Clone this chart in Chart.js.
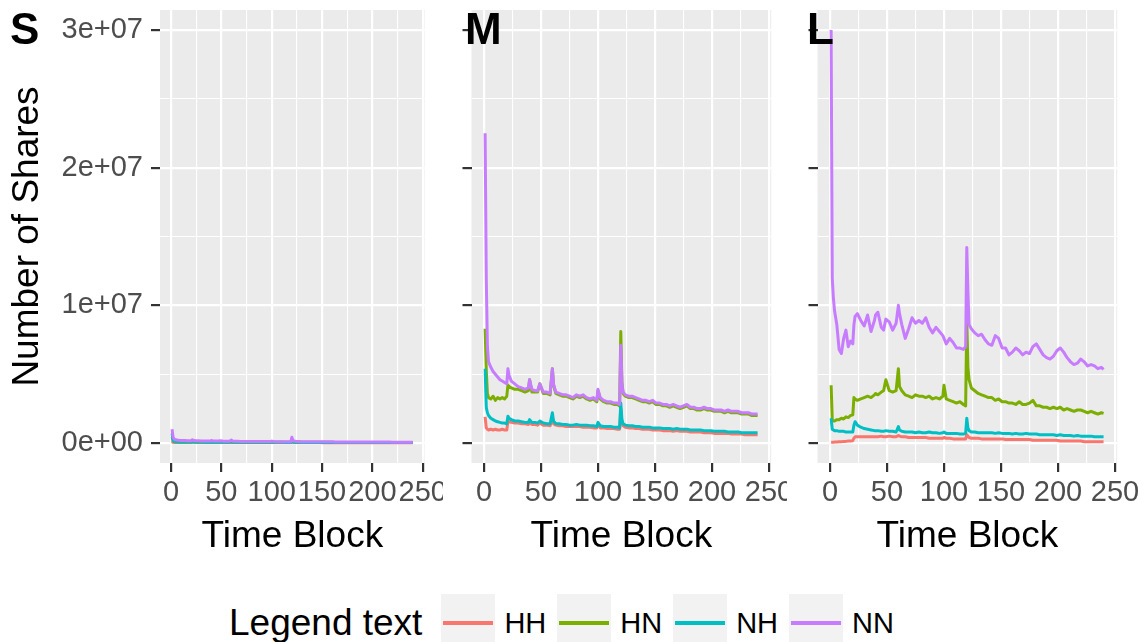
<!DOCTYPE html>
<html>
<head>
<meta charset="utf-8">
<title>Number of Shares by Time Block</title>
<script src="https://cdn.jsdelivr.net/npm/chart.js@4.4.1/dist/chart.umd.min.js"></script>
<style>
  body { margin: 0; background: #fff; font-family: 'Liberation Sans', Arial, sans-serif; }
  #wrap { position: relative; width: 1144px; height: 642px; overflow: hidden; background: #fff; }
  #wrap canvas { position: absolute; top: 0; }
  .tag { position: absolute; top: 7px; font-weight: bold; font-size: 44px; line-height: 44px; color: #000; }
  #legend { position: absolute; left: 229px; top: 594px; height: 58px; display: flex; align-items: center; color: #000; }
  #legend .title { font-size: 37px; margin-right: 19px; }
  #legend .key { width: 54px; height: 58px; background: #F2F2F2; position: relative; }
  #legend .key span { position: absolute; left: 2px; right: 2px; top: 27px; height: 4px; }
  #legend .lab { font-size: 29px; margin-left: 9px; margin-right: 11px; }
</style>
</head>
<body>
<div id="wrap">
  <canvas id="panelS" width="443" height="570" style="left:0px"></canvas>
  <canvas id="panelM" width="344" height="570" style="left:443px"></canvas>
  <canvas id="panelL" width="357" height="570" style="left:787px"></canvas>
  <div class="tag" style="left:10px">S</div>
  <div class="tag" style="left:465px">M</div>
  <div class="tag" style="left:807px">L</div>
  <div id="legend"><div class="title">Legend text</div></div>
</div>
<script>
// time blocks sampled along the x axis
const blocks = [1, 2, 3, 4,
  6, 8, 10, 12, 14, 16, 18, 20,
  21, 22, 24, 27, 30, 33, 36, 39,
  40, 42, 45, 47, 49, 52, 55, 58,
  60, 61, 63, 66, 69, 72, 75, 78,
  81, 84, 87, 90, 93, 96, 99, 100,
  102, 105, 108, 111, 114, 117, 119, 120,
  121, 122, 124, 127, 130, 133, 136, 139,
  142, 145, 148, 151, 154, 157, 160, 163,
  166, 169, 172, 175, 178, 181, 184, 187,
  190, 193, 196, 199, 202, 205, 208, 211,
  214, 217, 220, 223, 226, 229, 232, 235,
  238, 240];

const seriesNames = ['HH', 'HN', 'NH', 'NN'];
const seriesColors = ['#F8766D', '#7CAE00', '#00BFC4', '#C77CFF'];

// values in millions of shares, one per time block
// panel S
const sHH = [0.15, 0.05, 0.04, 0.04,
  0.04, 0.04, 0.04, 0.04, 0.04, 0.04, 0.04, 0.04,
  0.06, 0.05, 0.04, 0.04, 0.04, 0.04, 0.04, 0.04,
  0.05, 0.04, 0.04, 0.04, 0.04, 0.04, 0.03, 0.03,
  0.06, 0.04, 0.03, 0.03, 0.03, 0.03, 0.03, 0.03,
  0.03, 0.03, 0.03, 0.03, 0.03, 0.03, 0.03, 0.04,
  0.03, 0.03, 0.03, 0.03, 0.03, 0.03, 0.03, 0.08,
  0.05, 0.03, 0.03, 0.03, 0.03, 0.03, 0.03, 0.03,
  0.03, 0.03, 0.03, 0.02, 0.02, 0.02, 0.02, 0.02,
  0.02, 0.02, 0.02, 0.02, 0.02, 0.02, 0.02, 0.02,
  0.02, 0.02, 0.02, 0.02, 0.02, 0.02, 0.02, 0.02,
  0.02, 0.02, 0.02, 0.02, 0.02, 0.02, 0.02, 0.02,
  0.02, 0.02];
const sHN = [0.45, 0.2, 0.12, 0.1,
  0.09, 0.09, 0.08, 0.08, 0.08, 0.08, 0.08, 0.08,
  0.12, 0.1, 0.09, 0.08, 0.08, 0.08, 0.08, 0.07,
  0.1, 0.07, 0.07, 0.07, 0.08, 0.07, 0.07, 0.07,
  0.12, 0.08, 0.07, 0.07, 0.06, 0.06, 0.06, 0.06,
  0.06, 0.06, 0.06, 0.06, 0.06, 0.06, 0.06, 0.07,
  0.06, 0.06, 0.05, 0.05, 0.05, 0.05, 0.05, 0.2,
  0.12, 0.07, 0.06, 0.06, 0.05, 0.05, 0.05, 0.05,
  0.05, 0.05, 0.05, 0.05, 0.05, 0.05, 0.05, 0.04,
  0.04, 0.04, 0.04, 0.04, 0.04, 0.04, 0.04, 0.04,
  0.04, 0.04, 0.04, 0.04, 0.04, 0.04, 0.04, 0.04,
  0.04, 0.04, 0.04, 0.04, 0.04, 0.04, 0.04, 0.04,
  0.04, 0.04];
const sNH = [0.7, 0.2, 0.12, 0.1,
  0.09, 0.08, 0.08, 0.07, 0.07, 0.07, 0.07, 0.07,
  0.1, 0.08, 0.07, 0.07, 0.07, 0.06, 0.06, 0.06,
  0.08, 0.06, 0.06, 0.06, 0.07, 0.06, 0.06, 0.06,
  0.1, 0.07, 0.06, 0.06, 0.05, 0.05, 0.05, 0.05,
  0.05, 0.05, 0.05, 0.05, 0.05, 0.05, 0.05, 0.06,
  0.05, 0.05, 0.05, 0.05, 0.04, 0.04, 0.04, 0.18,
  0.1, 0.06, 0.05, 0.05, 0.04, 0.04, 0.04, 0.04,
  0.04, 0.04, 0.04, 0.04, 0.04, 0.04, 0.04, 0.04,
  0.04, 0.04, 0.03, 0.03, 0.03, 0.03, 0.03, 0.03,
  0.03, 0.03, 0.03, 0.03, 0.03, 0.03, 0.03, 0.03,
  0.03, 0.03, 0.03, 0.03, 0.03, 0.03, 0.03, 0.03,
  0.03, 0.03];
const sNN = [1.0, 0.45, 0.3, 0.25,
  0.22, 0.2, 0.19, 0.18, 0.18, 0.17, 0.17, 0.16,
  0.24, 0.2, 0.17, 0.16, 0.15, 0.15, 0.15, 0.14,
  0.18, 0.14, 0.14, 0.14, 0.16, 0.13, 0.13, 0.13,
  0.22, 0.15, 0.13, 0.13, 0.12, 0.12, 0.12, 0.12,
  0.12, 0.12, 0.11, 0.11, 0.11, 0.11, 0.11, 0.14,
  0.11, 0.1, 0.1, 0.1, 0.1, 0.1, 0.1, 0.42,
  0.22, 0.14, 0.12, 0.11, 0.1, 0.1, 0.1, 0.1,
  0.1, 0.09, 0.09, 0.09, 0.09, 0.09, 0.09, 0.08,
  0.08, 0.08, 0.08, 0.08, 0.08, 0.08, 0.08, 0.08,
  0.07, 0.07, 0.07, 0.07, 0.07, 0.07, 0.07, 0.07,
  0.07, 0.07, 0.06, 0.06, 0.06, 0.06, 0.06, 0.06,
  0.06, 0.06];

// panel M
const mHH = [1.9, 1.1, 1.0, 0.95,
  1.0, 0.95, 1.0, 0.95, 0.95, 1.0, 0.95, 0.95,
  1.6, 1.55, 1.5, 1.45, 1.45, 1.4, 1.4, 1.35,
  1.5, 1.35, 1.35, 1.3, 1.45, 1.3, 1.3, 1.25,
  1.9, 1.4, 1.3, 1.25, 1.25, 1.2, 1.2, 1.2,
  1.2, 1.2, 1.15, 1.15, 1.15, 1.1, 1.1, 1.35,
  1.1, 1.1, 1.05, 1.05, 1.05, 1.0, 1.0, 2.5,
  1.5, 1.25, 1.15, 1.1, 1.1, 1.05, 1.05, 1.0,
  1.0, 1.0, 0.95, 0.95, 0.95, 0.9, 0.9, 0.9,
  0.85, 0.9, 0.85, 0.85, 0.85, 0.8, 0.8, 0.8,
  0.8, 0.75, 0.75, 0.75, 0.7, 0.7, 0.7, 0.7,
  0.7, 0.65, 0.65, 0.65, 0.65, 0.6, 0.6, 0.6,
  0.6, 0.6];
const mHN = [8.3, 5.3, 3.6, 3.3,
  3.2, 3.4, 3.1, 3.3, 3.2, 3.3, 3.2, 3.4,
  4.2, 4.1, 4.0, 3.9, 3.9, 3.8, 3.7, 3.8,
  4.6, 3.7, 3.7, 3.7, 4.3, 3.6, 3.6, 3.5,
  5.4, 4.2, 3.6, 3.5, 3.4, 3.4, 3.3, 3.2,
  3.4, 3.3, 3.4, 3.2, 3.1, 3.2, 3.0, 3.8,
  3.2, 3.0, 2.9, 2.9, 2.8, 2.8, 2.7, 8.1,
  4.4, 3.6, 3.4, 3.3, 3.3, 3.2, 3.1, 3.0,
  3.0, 2.9, 3.0, 2.8, 2.8, 2.7, 2.7, 2.6,
  2.7, 2.6, 2.5, 2.6, 2.7, 2.5, 2.5, 2.4,
  2.4, 2.5, 2.4, 2.4, 2.3, 2.3, 2.3, 2.2,
  2.3, 2.2, 2.2, 2.2, 2.1, 2.1, 2.1, 2.0,
  2.0, 2.0];
const mNH = [5.4, 2.6, 2.2, 2.0,
  1.8, 1.7, 1.6, 1.55, 1.5, 1.45, 1.45, 1.4,
  1.95, 1.8, 1.7, 1.6, 1.6, 1.55, 1.5, 1.5,
  1.7, 1.5, 1.5, 1.45, 1.6, 1.45, 1.4, 1.4,
  2.2, 1.6, 1.4, 1.4, 1.35, 1.35, 1.3, 1.3,
  1.35, 1.3, 1.3, 1.3, 1.25, 1.25, 1.2, 1.5,
  1.25, 1.2, 1.2, 1.2, 1.15, 1.15, 1.1, 2.9,
  1.7, 1.4, 1.3, 1.25, 1.25, 1.2, 1.2, 1.15,
  1.15, 1.15, 1.1, 1.1, 1.1, 1.05, 1.05, 1.05,
  1.0, 1.05, 1.0, 1.0, 1.0, 0.95, 0.95, 0.95,
  0.95, 0.9, 0.9, 0.9, 0.85, 0.85, 0.85, 0.85,
  0.8, 0.8, 0.8, 0.8, 0.75, 0.75, 0.75, 0.75,
  0.75, 0.75];
const mNN = [22.5, 12.0, 7.0, 5.9,
  5.5, 5.2, 5.0, 4.8, 4.6, 4.5, 4.4, 4.3,
  5.4, 4.9, 4.5, 4.3, 4.1, 4.0, 3.9, 4.0,
  4.6, 3.9, 3.8, 3.8, 4.3, 3.7, 3.7, 3.6,
  5.4, 4.3, 3.7, 3.6, 3.5, 3.5, 3.4, 3.3,
  3.5, 3.4, 3.5, 3.3, 3.2, 3.3, 3.1, 3.9,
  3.3, 3.1, 3.0, 3.0, 2.9, 2.9, 2.8, 7.1,
  4.3, 3.7, 3.5, 3.4, 3.4, 3.3, 3.2, 3.1,
  3.1, 3.0, 3.1, 2.9, 2.9, 2.8, 2.8, 2.7,
  2.8, 2.7, 2.6, 2.7, 2.8, 2.6, 2.6, 2.5,
  2.5, 2.6, 2.5, 2.5, 2.4, 2.4, 2.4, 2.3,
  2.4, 2.3, 2.3, 2.3, 2.2, 2.2, 2.2, 2.1,
  2.1, 2.1];

// panel L
const lHH = [0.05, 0.05, 0.05, 0.07,
  0.08, 0.1, 0.1, 0.12, 0.12, 0.14, 0.15, 0.17,
  0.35, 0.45, 0.45, 0.45, 0.45, 0.45, 0.45, 0.45,
  0.45, 0.45, 0.5, 0.45, 0.45, 0.5, 0.45, 0.45,
  0.55, 0.5, 0.45, 0.45, 0.4, 0.4, 0.4, 0.4,
  0.4, 0.4, 0.35, 0.35, 0.35, 0.35, 0.35, 0.4,
  0.35, 0.35, 0.3, 0.3, 0.3, 0.3, 0.3, 0.6,
  0.5, 0.4, 0.35, 0.35, 0.35, 0.3, 0.3, 0.3,
  0.3, 0.3, 0.3, 0.3, 0.25, 0.25, 0.25, 0.25,
  0.25, 0.25, 0.25, 0.25, 0.2, 0.2, 0.2, 0.2,
  0.2, 0.2, 0.2, 0.2, 0.15, 0.15, 0.15, 0.15,
  0.15, 0.15, 0.15, 0.1, 0.1, 0.1, 0.1, 0.1,
  0.1, 0.1];
const lHN = [4.2, 1.7, 1.6, 1.6,
  1.7, 1.7, 1.8, 1.75, 1.9, 1.85, 2.0, 2.05,
  3.3, 3.2, 3.1, 3.2, 3.3, 3.4, 3.3, 3.5,
  3.6, 3.5, 3.7, 3.8, 4.6, 3.8, 3.7, 3.8,
  5.4, 4.1, 3.8, 3.5, 3.4, 3.3, 3.5, 3.4,
  3.4, 3.3, 3.4, 3.2, 3.3, 3.2, 3.4, 4.2,
  3.2, 3.1, 3.0, 2.9, 3.0, 2.8, 2.7, 8.9,
  5.5, 4.6, 4.0, 3.8, 3.6, 3.5, 3.4, 3.3,
  3.3, 3.1, 3.2, 3.0, 3.0, 2.9, 2.9, 2.8,
  3.0, 2.8, 2.8, 2.9, 3.1, 2.7, 2.7, 2.6,
  2.6, 2.5, 2.6, 2.5, 2.6, 2.4, 2.5, 2.4,
  2.3, 2.4, 2.4, 2.3, 2.2, 2.3, 2.2, 2.1,
  2.2, 2.15];
const lNH = [1.8, 1.0, 0.95, 0.9,
  0.9, 0.85, 0.85, 0.85, 0.8, 0.8, 0.8, 0.8,
  1.3, 1.55, 1.3, 1.15, 1.05, 1.0, 0.95, 0.9,
  0.9, 0.9, 0.85, 0.85, 0.9, 0.85, 0.85, 0.8,
  1.2, 0.95, 0.85, 0.8, 0.8, 0.8, 0.75, 0.8,
  0.75, 0.75, 0.8, 0.75, 0.75, 0.7, 0.75, 0.8,
  0.7, 0.7, 0.7, 0.7, 0.65, 0.65, 0.7, 1.8,
  1.1, 0.9, 0.8, 0.8, 0.75, 0.75, 0.75, 0.75,
  0.75, 0.7, 0.75, 0.7, 0.7, 0.7, 0.65, 0.7,
  0.65, 0.65, 0.7, 0.65, 0.65, 0.65, 0.6, 0.6,
  0.6, 0.6, 0.6, 0.55, 0.6, 0.55, 0.55, 0.55,
  0.5, 0.55, 0.5, 0.5, 0.5, 0.5, 0.45, 0.45,
  0.45, 0.45];
const lNN = [30.0, 12.0, 10.5, 9.6,
  8.6, 6.8, 6.5, 7.6, 8.2, 7.0, 7.4, 7.2,
  8.6, 9.2, 9.4, 8.9, 8.5, 9.3, 8.1, 8.9,
  9.3, 9.5, 8.4, 8.2, 9.0, 8.8, 8.2, 8.7,
  10.0, 9.4, 8.6, 7.6, 8.3, 9.1, 8.7, 8.9,
  8.7, 9.1, 8.4, 8.0, 8.4, 8.1, 7.8, 7.6,
  7.2, 7.6, 7.3, 6.9, 6.9, 6.8, 7.0, 14.2,
  11.0, 8.6, 8.3, 8.0, 7.8, 7.9, 7.5, 7.2,
  7.1, 7.8, 7.6, 6.9, 6.9, 6.4, 6.6, 6.9,
  6.7, 6.4, 6.6, 6.5, 7.0, 7.2, 6.8, 6.4,
  6.2, 6.1, 6.3, 6.7, 6.9, 6.6, 6.2, 5.9,
  5.7, 5.8, 6.1, 5.9, 5.6, 5.7, 5.6, 5.4,
  5.5, 5.35];

// axis ticks
const xMajor = [0, 50, 100, 150, 200, 250];
const xMinor = [25, 75, 125, 175, 225];
const yMajor = [0, 1e7, 2e7, 3e7];
const yMinor = [5e6, 1.5e7, 2.5e7];
const yLabels = ['0e+00', '1e+07', '2e+07', '3e+07'];

Chart.defaults.font.family = "'Liberation Sans', Arial, Helvetica, sans-serif";

const panelBg = {
  id: 'panelBg',
  beforeDraw(chart) {
    const { ctx, chartArea } = chart;
    ctx.save();
    ctx.fillStyle = '#EBEBEB';
    ctx.fillRect(chartArea.left, chartArea.top, chartArea.right - chartArea.left, chartArea.bottom - chartArea.top);
    ctx.restore();
  }
};

function useTicks(major, minor) {
  return function (scale) {
    scale.ticks = major.map(v => ({ value: v }))
      .concat(minor.map(v => ({ value: v, isMinor: true })))
      .sort((a, b) => a.value - b.value);
  };
}

function gridOpts() {
  return {
    color: '#FFFFFF',
    lineWidth: c => (c.tick && c.tick.isMinor) ? 1.1 : 2.2,
    drawTicks: true,
    tickLength: 9,
    tickWidth: 2.2,
    tickColor: c => (c.tick && c.tick.isMinor) ? 'rgba(0,0,0,0)' : '#333333'
  };
}

function makePanel(id, values, yWidth, padRight, showY) {
  const datasets = seriesNames.map((name, i) => ({
    label: name,
    data: blocks.map((t, j) => ({ x: t, y: values[i][j] * 1e6 })),
    borderColor: seriesColors[i],
    borderWidth: 3,
    borderJoinStyle: 'round',
    pointRadius: 0,
    tension: 0,
    fill: false,
    order: seriesNames.length - i
  }));

  new Chart(document.getElementById(id), {
    type: 'line',
    data: { datasets: datasets },
    options: {
      responsive: false,
      animation: false,
      events: [],
      layout: { padding: { top: 10, left: 0, right: padRight, bottom: 7 } },
      plugins: { legend: { display: false }, tooltip: { enabled: false } },
      scales: {
        x: {
          type: 'linear',
          min: -10.95,
          max: 251.95,
          afterBuildTicks: useTicks(xMajor, xMinor),
          afterFit(scale) { scale.height = 100; scale.paddingLeft = 0; scale.paddingRight = 0; },
          border: { display: false },
          grid: gridOpts(),
          ticks: {
            autoSkip: false, maxRotation: 0, minRotation: 0,
            color: '#4D4D4D', font: { size: 29 }, padding: 4,
            callback: v => xMajor.includes(v) ? String(v) : ''
          },
          title: { display: true, text: 'Time Block', color: '#000', font: { size: 37 }, padding: { top: 0, bottom: 4 } }
        },
        y: {
          type: 'linear',
          min: -1.45e6,
          max: 31.45e6,
          afterBuildTicks: useTicks(yMajor, yMinor),
          afterFit(scale) { scale.width = yWidth; scale.paddingTop = 0; scale.paddingBottom = 0; },
          border: { display: false },
          grid: gridOpts(),
          ticks: {
            display: showY, autoSkip: false,
            color: '#4D4D4D', font: { size: 29 }, padding: 8,
            callback: v => { const k = yMajor.indexOf(v); return k >= 0 ? yLabels[k] : ''; }
          },
          title: { display: showY, text: 'Number of Shares', color: '#000', font: { size: 37 }, padding: { top: 6, bottom: 0 } }
        }
      }
    },
    plugins: [panelBg]
  });
}

makePanel('panelS', [sHH, sHN, sNH, sNN], 160, 18.3, true);
makePanel('panelM', [mHH, mHN, mNH, mNN], 28.5, 15.8, false);
makePanel('panelL', [lHH, lHN, lNH, lNN], 30.5, 26.8, false);

// legend row
const legend = document.getElementById('legend');
seriesNames.forEach((name, i) => {
  const key = document.createElement('div');
  key.className = 'key';
  const line = document.createElement('span');
  line.style.background = seriesColors[i];
  key.appendChild(line);
  const lab = document.createElement('div');
  lab.className = 'lab';
  lab.textContent = name;
  legend.appendChild(key);
  legend.appendChild(lab);
});
</script>
</body>
</html>
